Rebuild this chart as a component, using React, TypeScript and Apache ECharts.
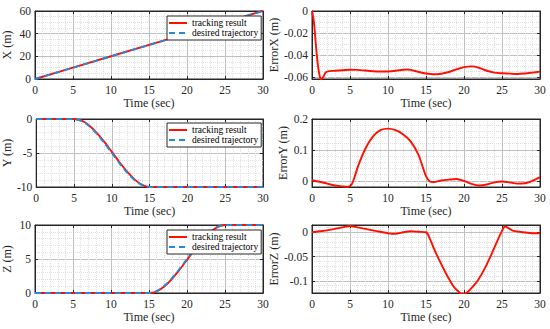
import React, { useEffect, useRef } from 'react';
import * as echarts from 'echarts';

const FONT = 'Liberation Serif';
const INK = '#262626';
const RED = '#ff0f00';
const BLUE = '#2689db';

// X trajectory
const timeLin = [0, 5, 10, 15, 20, 25, 30];
const desiredX = [0, 10, 20, 30, 40, 50, 60];
const trackingX = [0, 10.05, 20.06, 30.06, 40.05, 50.06, 60.06];

// Y and Z trajectories (1 s steps)
const timeS = [0, 1, 2, 3, 4, 5, 6, 7, 8, 9, 10, 11, 12, 13, 14, 15, 16, 17, 18, 19, 20, 21, 22, 23, 24, 25, 26, 27, 28, 29, 30];
const desiredY = [0, 0, 0, 0, 0, 0, -0.28, -1.04, -2.16, -3.52, -5, -6.48, -7.84, -8.96, -9.72, -10, -10, -10, -10, -10, -10, -10, -10, -10, -10, -10, -10, -10, -10, -10, -10];
const trackingY = [0, 0, 0, 0, 0, 0, -0.25, -0.95, -2.03, -3.36, -4.83, -6.33, -7.72, -8.88, -9.69, -9.99, -10, -10, -10, -10, -10, -10, -10, -10, -10, -10, -10, -10, -10, -10, -10];
const desiredZ = [0, 0, 0, 0, 0, 0, 0, 0, 0, 0, 0, 0, 0, 0, 0, 0, 0.28, 1.04, 2.16, 3.52, 5, 6.48, 7.84, 8.96, 9.72, 10, 10, 10, 10, 10, 10];
const trackingZ = [0, 0, 0, 0, 0, 0, 0, 0, 0, 0, 0, 0, 0, 0, 0, 0, 0.22, 0.95, 2.05, 3.4, 4.87, 6.36, 7.74, 8.89, 9.69, 10, 10, 10, 10, 10, 10];

// Errors
const errTimeX = [0, 0.25, 0.5, 0.75, 1, 1.2, 1.5, 1.8, 2.2, 3, 4, 5, 6, 7, 8, 9, 10, 11, 12, 12.5, 13, 14, 15, 16, 17, 18, 19, 20, 21, 22, 23, 24, 25, 26, 27, 28, 29, 30];
const errorX = [0, -0.01, -0.03, -0.048, -0.059, -0.0624, -0.06, -0.056, -0.0548, -0.0545, -0.054, -0.0535, -0.0537, -0.0543, -0.0549, -0.0552, -0.0551, -0.0545, -0.0536, -0.0533, -0.0537, -0.0555, -0.057, -0.0577, -0.0572, -0.0556, -0.0532, -0.0512, -0.0505, -0.0518, -0.0545, -0.0562, -0.0568, -0.0571, -0.0574, -0.057, -0.0562, -0.0553];

const errTimeY = [0, 1, 2, 3, 4, 4.6, 5, 5.3, 5.7, 6.1, 7, 8, 9, 10, 11, 12, 13, 14, 14.5, 15, 15.5, 16, 17, 18, 19, 20, 21, 22, 23, 24, 25, 26, 27, 28, 29, 30];
const errorY = [0.002, -0.003, -0.009, -0.015, -0.018, -0.0195, -0.017, -0.008, 0.02, 0.05, 0.103, 0.143, 0.164, 0.169, 0.164, 0.15, 0.127, 0.085, 0.05, 0.015, -0.002, -0.004, 0.001, 0.004, 0.006, 0, -0.01, -0.015, -0.012, -0.005, -0.002, -0.005, -0.009, -0.008, 0, 0.012];

const errTimeZ = [0, 1, 2, 3, 4, 5, 6, 7, 8, 9, 10, 10.5, 11, 12, 13, 14, 15, 15.5, 16, 16.8, 17.7, 18.6, 19.2, 19.7, 20.2, 20.8, 21.9, 23, 24.1, 25, 25.4, 26, 26.5, 27.8, 29, 30];
const errorZ = [0, 0.002, 0.004, 0.007, 0.01, 0.013, 0.01, 0.007, 0.004, 0.001, -0.002, -0.003, -0.003, 0, 0.002, 0.001, 0, -0.013, -0.032, -0.059, -0.087, -0.111, -0.121, -0.127, -0.126, -0.118, -0.097, -0.066, -0.028, 0.003, 0.012, 0.007, 0.003, 0, -0.002, -0.002];

const legendNames = ['tracking result', 'desired trajectory'];

const pairs = (t: number[], v: number[]) => t.map((x, i) => [x, v[i]]);

const grids = [
  { left: 35, top: 11, width: 228, height: 68 },
  { left: 312, top: 11, width: 228, height: 68 },
  { left: 35, top: 119, width: 228, height: 68 },
  { left: 312, top: 119, width: 228, height: 68 },
  { left: 35, top: 225, width: 228, height: 68 },
  { left: 312, top: 225, width: 228, height: 68 },
];

const yRanges = [
  { name: 'X (m)', gap: 22, range: { min: 0, max: 60, interval: 20 }, minor: 4, hideMin: false, hideMax: false },
  { name: 'ErrorX (m)', gap: 30, range: { min: -0.062, max: 0, splitNumber: 3 }, minor: 4, hideMin: true, hideMax: false },
  { name: 'Y (m)', gap: 22, range: { min: -10, max: 0, interval: 5 }, minor: 5, hideMin: false, hideMax: false },
  { name: 'ErrorY (m)', gap: 23, range: { min: -0.02, max: 0.2, splitNumber: 2 }, minor: 5, hideMin: true, hideMax: false },
  { name: 'Z (m)', gap: 22, range: { min: 0, max: 10, interval: 5 }, minor: 5, hideMin: false, hideMax: false },
  { name: 'ErrorZ (m)', gap: 31, range: { min: -0.125, max: 0.015, splitNumber: 3 }, minor: 5, hideMin: true, hideMax: true },
];

const tickStyle = { show: true, inside: true, length: 3, lineStyle: { color: INK } };

function xAxis(gridIndex: number, mirror: boolean) {
  const base: any = {
    type: 'value', gridIndex, min: 0, max: 30, interval: 5,
    position: mirror ? 'top' : 'bottom',
    axisLine: { show: true, onZero: false, lineStyle: { color: INK, width: 1 } },
    axisTick: tickStyle,
  };
  if (mirror) {
    return { ...base, axisLabel: { show: false }, splitLine: { show: false }, minorSplitLine: { show: false } };
  }
  return {
    ...base,
    name: 'Time (sec)', nameLocation: 'middle', nameGap: 18,
    nameTextStyle: { fontFamily: FONT, fontSize: 12, fontWeight: 'normal', color: INK },
    axisLabel: { fontFamily: FONT, fontSize: 11.5, fontWeight: 'normal', color: INK, margin: 5 },
    splitLine: { show: true, lineStyle: { color: '#c0c0c0', width: 1 } },
    minorTick: { show: false, splitNumber: 5 },
    minorSplitLine: { show: true, lineStyle: { color: '#e0e0e0', type: 'dotted', width: 1 } },
  };
}

function yAxis(gridIndex: number, mirror: boolean) {
  const c = yRanges[gridIndex];
  const base: any = {
    type: 'value', gridIndex,
    position: mirror ? 'right' : 'left',
    axisLine: { show: true, onZero: false, lineStyle: { color: INK, width: 1 } },
    axisTick: tickStyle,
    ...c.range,
  };
  if (mirror) {
    return { ...base, axisLabel: { show: false }, splitLine: { show: false }, minorSplitLine: { show: false } };
  }
  return {
    ...base,
    name: c.name, nameLocation: 'middle', nameGap: c.gap,
    nameTextStyle: { fontFamily: FONT, fontSize: 12, fontWeight: 'normal', color: INK },
    axisLabel: { fontFamily: FONT, fontSize: 11.5, fontWeight: 'normal', color: INK, margin: 4, showMinLabel: !c.hideMin, showMaxLabel: !c.hideMax },
    splitLine: { show: true, lineStyle: { color: '#c0c0c0', width: 1 } },
    minorTick: { show: false, splitNumber: c.minor },
    minorSplitLine: { show: true, lineStyle: { color: '#e0e0e0', type: 'dotted', width: 1 } },
  };
}

function lineSeries(name: string, idx: number, data: number[][], dashed: boolean, smooth: number) {
  return {
    type: 'line', name, xAxisIndex: idx, yAxisIndex: idx, data,
    symbol: 'none', smooth,
    lineStyle: { color: dashed ? BLUE : RED, width: 1.9, type: dashed ? [6, 4] : 'solid' },
    itemStyle: { color: dashed ? BLUE : RED },
    z: dashed ? 3 : 2,
  };
}

function legendAt(top: number) {
  return {
    data: legendNames, orient: 'vertical', left: 167, top,
    itemWidth: 18, itemHeight: 10, itemGap: 0,
    padding: [2, 3, 2, 1],
    borderColor: INK, borderWidth: 1, backgroundColor: '#ffffff',
    itemStyle: { opacity: 0, borderWidth: 0 },
    textStyle: { fontFamily: FONT, fontSize: 9.5, color: '#000' },
    selectedMode: false,
    z: 10,
  };
}

export default function App() {
  const ref = useRef<HTMLDivElement>(null);
  useEffect(() => {
    if (!ref.current) return;
    const chart = echarts.init(ref.current, undefined, { renderer: 'svg' });
    const idx = [0, 1, 2, 3, 4, 5];
    const option: any = {
      animation: false,
      backgroundColor: '#ffffff',
      textStyle: { fontFamily: FONT },
      grid: grids.map((g) => ({ ...g, show: true, borderColor: INK, borderWidth: 1, backgroundColor: '#ffffff', containLabel: false })),
      legend: [legendAt(16), legendAt(123), legendAt(230)],
      xAxis: [...idx.map((i) => xAxis(i, false)), ...idx.map((i) => xAxis(i, true))],
      yAxis: [...idx.map((i) => yAxis(i, false)), ...idx.map((i) => yAxis(i, true))],
      series: [
        lineSeries('tracking result', 0, pairs(timeLin, trackingX), false, 0),
        lineSeries('desired trajectory', 0, pairs(timeLin, desiredX), true, 0),
        lineSeries('error X', 1, pairs(errTimeX, errorX), false, 0.3),
        lineSeries('tracking result', 2, pairs(timeS, trackingY), false, 0.3),
        lineSeries('desired trajectory', 2, pairs(timeS, desiredY), true, 0.3),
        lineSeries('error Y', 3, pairs(errTimeY, errorY), false, 0.3),
        lineSeries('tracking result', 4, pairs(timeS, trackingZ), false, 0.3),
        lineSeries('desired trajectory', 4, pairs(timeS, desiredZ), true, 0.3),
        lineSeries('error Z', 5, pairs(errTimeZ, errorZ), false, 0.3),
      ],
    };
    chart.setOption(option);
    return () => chart.dispose();
  }, []);
  return <div ref={ref} style={{ position: 'absolute', left: 0, top: 0, width: 550, height: 329 }} />;
}
